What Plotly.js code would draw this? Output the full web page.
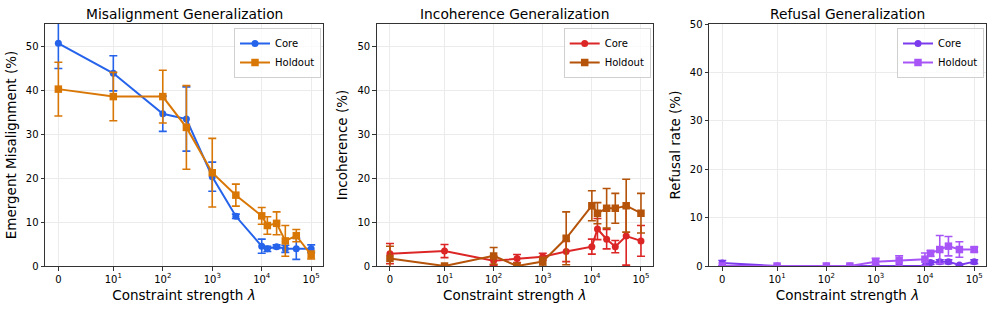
<!DOCTYPE html>
<html>
<head>
<meta charset="utf-8">
<script src="https://cdn.plot.ly/plotly-3.0.1.min.js"></script>
<style>html,body{margin:0;padding:0;background:#fff}#chart{width:996px;height:310px}</style>
</head>
<body>
<div id="chart"></div>
<script>
// ---- data ----
const lambdas = [0, 10, 100, 300, 1000, 3000, 10000, 13000, 20000, 30000, 50000, 100000];
const tickVals = [0, 10, 100, 1000, 10000, 100000];
const tickText = ['0', '10<sup>1</sup>', '10<sup>2</sup>', '10<sup>3</sup>', '10<sup>4</sup>', '10<sup>5</sup>'];

const misCore      = [50.6, 43.8, 34.6, 33.4, 20.3, 11.3, 4.5, 3.9, 4.4, 3.9, 3.9, 3.9];
const misCoreErr   = [5.7, 4.0, 4.0, 7.3, 3.3, 0.5, 1.6, 0.6, 0.4, 0.8, 2.4, 0.9];
const misHold      = [40.2, 38.5, 38.5, 31.5, 21.2, 16.1, 11.4, 9.2, 9.7, 5.7, 6.9, 2.5];
const misHoldErr   = [6.1, 5.5, 6.0, 9.5, 7.8, 2.5, 1.9, 2.0, 2.6, 3.5, 1.4, 0.9];

const incCore      = [2.8, 3.4, 1.2, 1.7, 2.1, 3.3, 4.4, 8.4, 6.1, 4.4, 6.8, 5.7];
const incCoreErr   = [2.3, 1.5, 1.0, 0.9, 0.8, 2.3, 1.7, 2.4, 2.2, 1.4, 6.6, 3.5];
const incHold      = [1.7, 0.0, 2.3, 0.0, 1.0, 6.3, 13.7, 12.0, 13.1, 13.1, 13.7, 12.0];
const incHoldErr   = [2.8, 0.0, 1.9, 0.0, 1.0, 6.0, 3.4, 2.4, 4.5, 3.4, 6.0, 4.5];

const refCore      = [0.6, 0, 0, 0, 0, 0, 0, 0.7, 0.9, 0.9, 0.2, 0.9];
const refCoreErr   = [0.55, 0, 0, 0, 0, 0, 0, 0.4, 0.4, 0.4, 0.2, 0.4];
const refHold      = [0, 0, 0, 0, 0.9, 1.1, 1.4, 2.6, 3.4, 4.1, 3.4, 3.4];
const refHoldErr   = [0, 0, 0, 0, 0.7, 1.0, 1.3, 0.6, 2.9, 2.0, 1.6, 0.5];

const panelTitles = ['Misalignment Generalization', 'Incoherence Generalization', 'Refusal Generalization'];
const yTitles = ['Emergent Misalignment (%)', 'Incoherence (%)', 'Refusal rate (%)'];
const seriesNames = ['Core', 'Holdout'];

// ---- symlog transform (linthresh = 10, linscale = 1, like matplotlib) ----
const LINW = 1 / (1 - 1 / 10);
function symlog(v) { return v < 10 ? (v / 10) * LINW : LINW + Math.log10(v / 10); }
const X = lambdas.map(symlog);

const FONT = 'DejaVu Sans, sans-serif';
const colors = [['#2563EB', '#D97706'], ['#DC2626', '#B45309'], ['#7C3AED', '#A855F7']];
const panels = [
  [misCore, misCoreErr, misHold, misHoldErr],
  [incCore, incCoreErr, incHold, incHoldErr],
  [refCore, refCoreErr, refHold, refHoldErr]
];

const traces = [];
panels.forEach((p, i) => {
  const ax = i === 0 ? '' : String(i + 1);
  const leg = i === 0 ? 'legend' : 'legend' + (i + 1);
  [0, 1].forEach(k => {
    const c = colors[i][k];
    traces.push({
      type: 'scatter', mode: 'lines+markers',
      x: X, y: p[k * 2], name: seriesNames[k],
      xaxis: 'x' + ax, yaxis: 'y' + ax, legend: leg,
      line: {color: c, width: 2},
      marker: {color: c, size: k === 0 ? 7 : 7.5, symbol: k === 0 ? 'circle' : 'square'},
      error_y: {type: 'data', array: p[k * 2 + 1], visible: true, color: c, thickness: 1.6, width: 4},
      cliponaxis: true
    });
  });
});

const xDomains = [[45 / 996, 323 / 996], [376.7 / 996, 652.7 / 996], [709 / 996, 986 / 996]];
const yDom = [1 - 266 / 310, 1 - 24 / 310];
const yMax = [55, 55, 50];

const layout = {
  width: 996, height: 310,
  margin: {l: 0, r: 0, t: 0, b: 0},
  paper_bgcolor: '#fff', plot_bgcolor: '#fff',
  font: {family: FONT, size: 10, color: '#000'},
  showlegend: true,
  annotations: []
};

for (let i = 0; i < 3; i++) {
  const s = i === 0 ? '' : String(i + 1);
  layout['xaxis' + s] = {
    domain: xDomains[i], anchor: 'y' + s,
    range: [-0.27, 5.35],
    tickvals: tickVals.map(symlog), ticktext: tickText,
    ticks: 'outside', ticklen: 3.5, tickwidth: 1, tickcolor: '#333',
    showline: true, linecolor: '#333', linewidth: 1, mirror: true,
    showgrid: true, gridcolor: '#EBEBEB', gridwidth: 1, zeroline: false,
    tickfont: {family: FONT, size: 10, color: '#000'},
    title: {text: 'Constraint strength <i>λ</i>', font: {family: FONT, size: 13.5, color: '#000'}, standoff: 7}
  };
  layout['yaxis' + s] = {
    domain: yDom, anchor: 'x' + s,
    range: [0, yMax[i]],
    tickvals: [0, 10, 20, 30, 40, 50],
    ticks: 'outside', ticklen: 3.5, tickwidth: 1, tickcolor: '#333',
    showline: true, linecolor: '#333', linewidth: 1, mirror: true,
    showgrid: true, gridcolor: '#EBEBEB', gridwidth: 1, zeroline: false,
    tickfont: {family: FONT, size: 10, color: '#000'},
    title: {text: yTitles[i], font: {family: FONT, size: 13.5, color: '#000'}, standoff: 6}
  };
  const leg = i === 0 ? 'legend' : 'legend' + (i + 1);
  layout[leg] = {
    x: xDomains[i][1] - 2 / 996, y: yDom[1] - 4 / 310, xanchor: 'right', yanchor: 'top',
    bgcolor: 'rgba(255,255,255,0.8)', bordercolor: '#D0D0D0', borderwidth: 1,
    font: {family: FONT, size: 10, color: '#000'},
    itemwidth: 30, tracegroupgap: 0
  };
  layout.annotations.push({
    xref: 'paper', yref: 'paper',
    x: (xDomains[i][0] + xDomains[i][1]) / 2, y: 1 - 13.5 / 310,
    xanchor: 'center', yanchor: 'middle', showarrow: false,
    text: panelTitles[i], font: {family: FONT, size: 13.8, color: '#000'}
  });
}

Plotly.newPlot('chart', traces, layout, {staticPlot: true, displayModeBar: false});
</script>
</body>
</html>
